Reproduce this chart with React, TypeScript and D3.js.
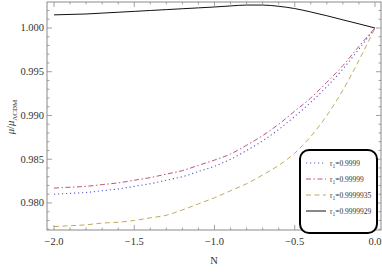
import React from 'react';
import * as d3 from 'd3';

// N grid shared by all curves
const nValues = [-2.0, -1.9, -1.8, -1.7, -1.6, -1.5, -1.4, -1.3, -1.2, -1.1, -1.0,
  -0.9, -0.8, -0.7, -0.6, -0.5, -0.4, -0.3, -0.2, -0.1, 0.0];

// mu / mu_LCDM for each r1
const r9999 = [0.9810, 0.9811, 0.9812, 0.9814, 0.9816, 0.9819, 0.9822, 0.9826, 0.9830, 0.9836, 0.9842,
  0.9850, 0.9860, 0.9871, 0.9884, 0.9899, 0.9915, 0.9933, 0.9953, 0.9976, 1.0000];
const r99999 = [0.9817, 0.9818, 0.9819, 0.9821, 0.9823, 0.9826, 0.9829, 0.9833, 0.9837, 0.9843, 0.9849,
  0.9856, 0.9866, 0.9877, 0.9890, 0.9905, 0.9920, 0.9938, 0.9957, 0.9979, 1.0000];
const r9999935 = [0.9773, 0.9774, 0.9775, 0.9777, 0.9778, 0.9780, 0.9783, 0.9786, 0.9792, 0.9799, 0.9806,
  0.9814, 0.9822, 0.9832, 0.9843, 0.9857, 0.9876, 0.9900, 0.9929, 0.9963, 1.0000];
const r9999929 = [1.0015, 1.00155, 1.0016, 1.0017, 1.0018, 1.0019, 1.0020, 1.0021, 1.0022, 1.0023, 1.0024,
  1.00252, 1.00262, 1.00262, 1.00248, 1.00222, 1.00183, 1.0014, 1.00093, 1.00047, 1.0000];

const xTicks = [-2.0, -1.5, -1.0, -0.5, 0.0];
const yTicks = [0.980, 0.985, 0.990, 0.995, 1.000];

const series = [
  { label: '0.9999', values: r9999, color: '#5c5cc8', dash: '1.2,2.8', width: 1.1 },
  { label: '0.99999', values: r99999, color: '#bb5485', dash: '5,2.5,1.5,2.5', width: 1 },
  { label: '0.9999935', values: r9999935, color: '#c2aa5c', dash: '5,3.5', width: 1 },
  { label: '0.9999929', values: r9999929, color: '#111111', dash: null, width: 1 },
];

const W = 382;
const H = 273;
const left = 47, right = 381, top = 2, bottom = 230;

export default function App() {
  const x = d3.scaleLinear().domain([-2.0436, 0.0375]).range([left, right]);
  const y = d3.scaleLinear().domain([0.97691, 1.00297]).range([bottom, top]);

  const line = d3.line<number>()
    .x((d, i) => x(nValues[i]))
    .y(d => y(d))
    .curve(d3.curveMonotoneX);

  const xMinor = d3.range(-20, 1).map(i => i / 10);
  const yMinor = d3.range(977, 1003).map(i => i / 1000);
  const frame = '#8a8a8a';
  const font = '"Liberation Serif", "Times New Roman", serif';

  return (
    <svg width={W} height={H} style={{ position: 'absolute', left: 0, top: 0 }} fontFamily={font}>
      <rect x={0} y={0} width={W} height={H} fill="#fff" />
      <g clipPath="url(#plotclip)">
        <clipPath id="plotclip">
          <rect x={left} y={top} width={right - left} height={bottom - top} />
        </clipPath>
        {series.map(s => (
          <path key={s.label} d={line(s.values) || ''} fill="none" stroke={s.color}
            strokeWidth={s.width} strokeDasharray={s.dash || undefined} />
        ))}
      </g>

      <rect x={left} y={top} width={right - left} height={bottom - top} fill="none" stroke={frame} strokeWidth={1} />

      {xMinor.map(t => {
        const major = xTicks.some(m => Math.abs(m - t) < 1e-6);
        const len = major ? 5 : 2.5;
        return (
          <g key={'x' + t} stroke={frame} strokeWidth={0.8}>
            <line x1={x(t)} x2={x(t)} y1={bottom} y2={bottom - len} />
            <line x1={x(t)} x2={x(t)} y1={top} y2={top + len} />
          </g>
        );
      })}
      {yMinor.map(t => {
        const major = yTicks.some(m => Math.abs(m - t) < 1e-6);
        const len = major ? 5 : 2.5;
        return (
          <g key={'y' + t} stroke={frame} strokeWidth={0.8}>
            <line x1={left} x2={left + len} y1={y(t)} y2={y(t)} />
            <line x1={right} x2={right - len} y1={y(t)} y2={y(t)} />
          </g>
        );
      })}

      {xTicks.map(t => (
        <text key={'xl' + t} x={x(t)} y={bottom + 15} textAnchor="middle" fontSize={10.5} fill="#333">
          {d3.format('.1f')(t).replace('-', '\u2212')}
        </text>
      ))}
      {yTicks.map(t => (
        <text key={'yl' + t} x={left - 3} y={y(t) + 3.5} textAnchor="end" fontSize={10.5} fill="#333">
          {d3.format('.3f')(t)}
        </text>
      ))}

      <text x={(left + right) / 2} y={264} textAnchor="middle" fontSize={10.5} fill="#333">N</text>
      <text transform={`translate(14, 117) rotate(-90)`} textAnchor="middle" fontSize={10.5} fill="#333">
        <tspan fontStyle="italic">μ</tspan>/<tspan fontStyle="italic">μ</tspan>
        <tspan fontSize={7} dy={2.5}>ΛCDM</tspan>
      </text>

      <g>
        <rect x={300} y={150} width={77} height={83} rx={9} ry={9} fill="#fff" stroke="#000" strokeWidth={2} />
        {series.map((s, i) => {
          const ly = 163 + i * 16;
          return (
            <g key={'lg' + s.label}>
              <line x1={306} x2={326} y1={ly} y2={ly} stroke={s.color} strokeWidth={s.width}
                strokeDasharray={s.dash || undefined} />
              <text x={330} y={ly + 3} fontSize={7.5} fill="#333">
                r<tspan fontSize={5.5} dy={2}>1</tspan><tspan dy={-2}>={s.label}</tspan>
              </text>
            </g>
          );
        })}
      </g>
    </svg>
  );
}
